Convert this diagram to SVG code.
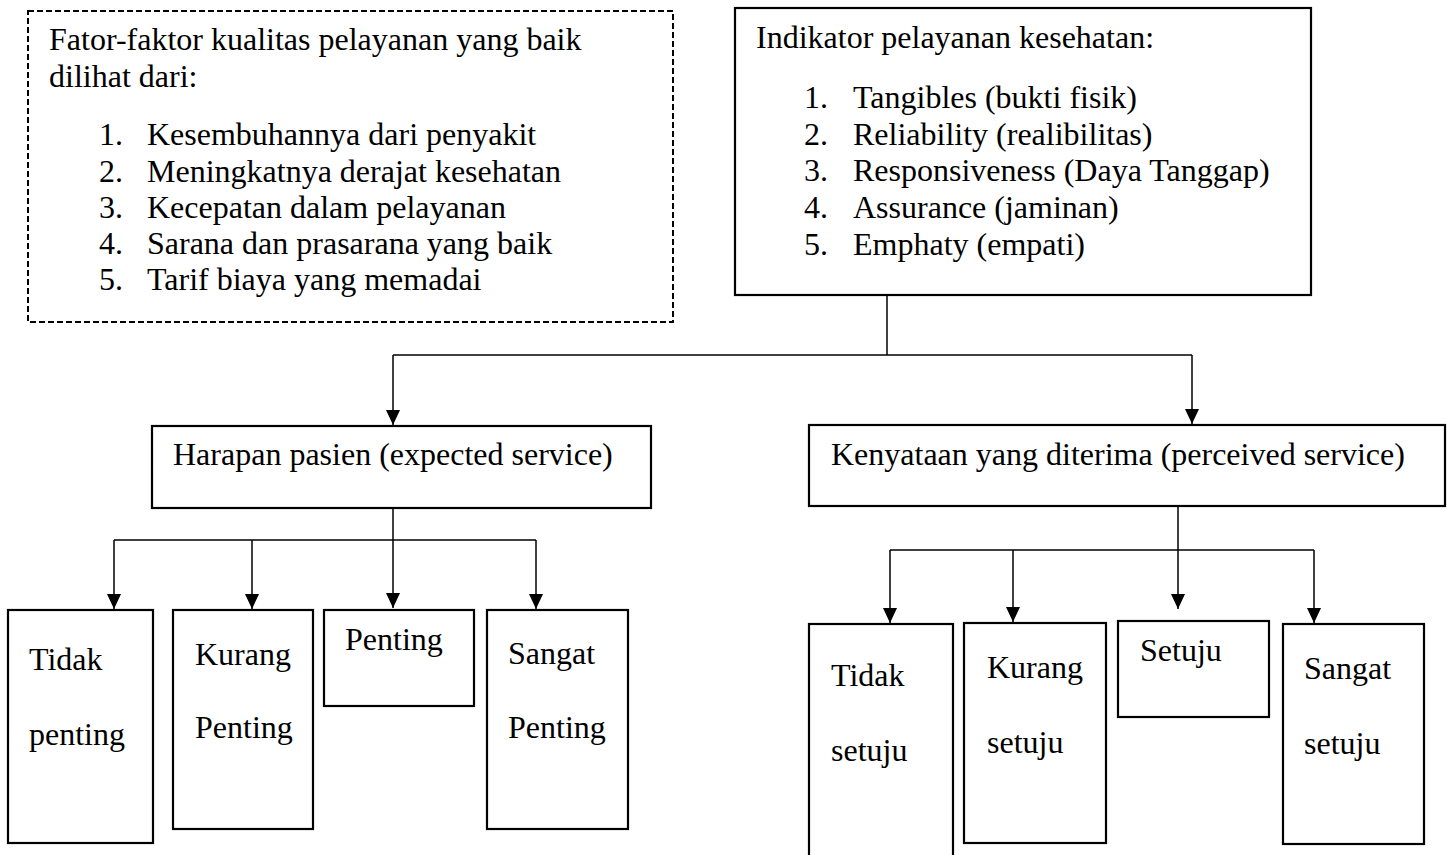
<svg xmlns="http://www.w3.org/2000/svg" width="1447" height="855" viewBox="0 0 1447 855">
<defs>
<style>
text{font-family:"Liberation Serif","Times New Roman",serif;font-size:32px;fill:#000}
.box{fill:#fff;stroke:#000;stroke-width:2.2}
.dash{fill:#fff;stroke:#000;stroke-width:2;stroke-dasharray:6 3}
.con{fill:none;stroke:#000;stroke-width:1.5}
</style>
<marker id="arr" markerWidth="15" markerHeight="14" refX="15" refY="7" orient="auto" markerUnits="userSpaceOnUse"><path d="M0,0 L15,7 L0,14 z" fill="#000"/></marker>
</defs>
<rect width="1447" height="855" fill="#fff"/>
<g id="connectors">
<polyline class="con" points="887,295 887,355"/>
<polyline class="con" points="393,355 1192,355"/>
<line class="con" x1="393" y1="355" x2="393" y2="425" marker-end="url(#arr)"/>
<line class="con" x1="1192" y1="355" x2="1192" y2="424" marker-end="url(#arr)"/>
<line class="con" x1="393" y1="508" x2="393" y2="608" marker-end="url(#arr)"/>
<polyline class="con" points="114,540 536,540"/>
<line class="con" x1="114" y1="540" x2="114" y2="609" marker-end="url(#arr)"/>
<line class="con" x1="252" y1="540" x2="252" y2="609" marker-end="url(#arr)"/>
<line class="con" x1="536" y1="540" x2="536" y2="609" marker-end="url(#arr)"/>
<line class="con" x1="1178" y1="506" x2="1178" y2="609" marker-end="url(#arr)"/>
<polyline class="con" points="890,550 1314,550"/>
<line class="con" x1="890" y1="550" x2="890" y2="623" marker-end="url(#arr)"/>
<line class="con" x1="1013" y1="550" x2="1013" y2="622" marker-end="url(#arr)"/>
<line class="con" x1="1314" y1="550" x2="1314" y2="623" marker-end="url(#arr)"/>
</g>
<g id="faktor">
<rect class="dash" x="28" y="11" width="645" height="311"/>
<text x="49" y="50">Fator-faktor kualitas pelayanan yang baik</text>
<text x="49" y="87">dilihat dari:</text>
<text x="99" y="145">1.</text><text x="147" y="145">Kesembuhannya dari penyakit</text>
<text x="99" y="182">2.</text><text x="147" y="182">Meningkatnya derajat kesehatan</text>
<text x="99" y="218">3.</text><text x="147" y="218">Kecepatan dalam pelayanan</text>
<text x="99" y="254">4.</text><text x="147" y="254">Sarana dan prasarana yang baik</text>
<text x="99" y="290">5.</text><text x="147" y="290">Tarif biaya yang memadai</text>
</g>
<g id="indikator">
<rect class="box" x="735" y="8" width="576" height="287"/>
<text x="756" y="48">Indikator pelayanan kesehatan:</text>
<text x="804" y="108">1.</text><text x="853" y="108">Tangibles (bukti fisik)</text>
<text x="804" y="145">2.</text><text x="853" y="145">Reliability (realibilitas)</text>
<text x="804" y="181">3.</text><text x="853" y="181">Responsiveness (Daya Tanggap)</text>
<text x="804" y="218">4.</text><text x="853" y="218">Assurance (jaminan)</text>
<text x="804" y="255">5.</text><text x="853" y="255">Emphaty (empati)</text>
</g>
<g id="harapan">
<rect class="box" x="152" y="426" width="499" height="82"/>
<text x="173" y="465">Harapan pasien (expected service)</text>
</g>
<g id="kenyataan">
<rect class="box" x="809" y="425" width="636" height="81"/>
<text x="831" y="465">Kenyataan yang diterima (perceived service)</text>
</g>
<g id="tidak-penting">
<rect class="box" x="8" y="610" width="145" height="233"/>
<text x="29" y="670">Tidak</text>
<text x="29" y="745">penting</text>
</g>
<g id="kurang-penting">
<rect class="box" x="173" y="610" width="140" height="219"/>
<text x="195" y="665">Kurang</text>
<text x="195" y="738">Penting</text>
</g>
<g id="penting">
<rect class="box" x="324" y="610" width="150" height="96"/>
<text x="345" y="650">Penting</text>
</g>
<g id="sangat-penting">
<rect class="box" x="487" y="610" width="141" height="219"/>
<text x="508" y="664">Sangat</text>
<text x="508" y="738">Penting</text>
</g>
<g id="tidak-setuju">
<rect class="box" x="809" y="624" width="144" height="260"/>
<text x="831" y="686">Tidak</text>
<text x="831" y="761">setuju</text>
</g>
<g id="kurang-setuju">
<rect class="box" x="964" y="623" width="142" height="220"/>
<text x="987" y="678">Kurang</text>
<text x="987" y="753">setuju</text>
</g>
<g id="setuju">
<rect class="box" x="1118" y="621" width="151" height="96"/>
<text x="1140" y="661">Setuju</text>
</g>
<g id="sangat-setuju">
<rect class="box" x="1283" y="624" width="141" height="220"/>
<text x="1304" y="679">Sangat</text>
<text x="1304" y="754">setuju</text>
</g>
</svg>
